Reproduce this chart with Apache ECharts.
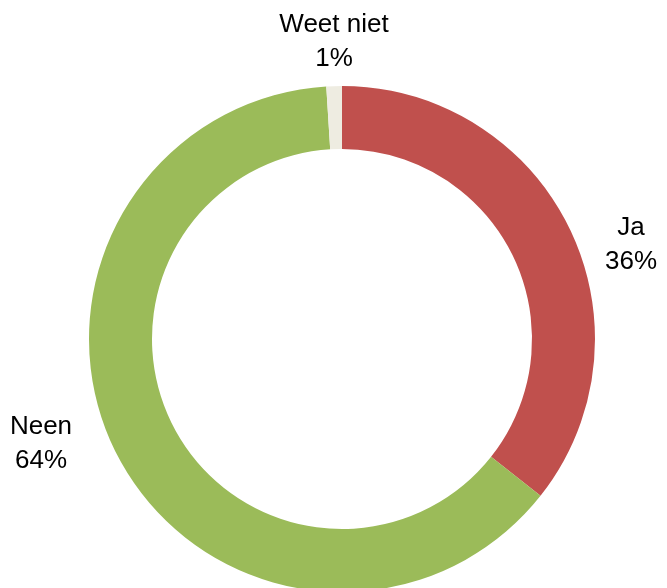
<!DOCTYPE html>
<html>
<head>
<meta charset="utf-8">
<script src="https://cdn.jsdelivr.net/npm/echarts@6/dist/echarts.min.js"></script>
<style>
  html, body { margin: 0; padding: 0; background: #fff; }
  #chart { width: 667px; height: 588px; }
</style>
</head>
<body>
<div id="chart"></div>
<script>
// Answer categories and their shares (percent), clockwise from 12 o'clock
const categories = ['Ja', 'Neen', 'Weet niet'];
const values = [36, 64, 1];
const colors = ['#C0504D', '#9BBB59', '#EEECE1'];

// Where each category label sits (centre of the two-line text block)
const labelSpots = [[631, 245], [41, 444], [334, 42]];

const chart = echarts.init(document.getElementById('chart'), null, { renderer: 'canvas' });

chart.setOption({
  animation: false,
  series: [{
    type: 'pie',
    center: [342, 339],
    radius: [190, 253],
    startAngle: 90,
    clockwise: true,
    avoidLabelOverlap: false,
    data: categories.map((name, i) => ({
      name: name,
      value: values[i],
      itemStyle: { color: colors[i] }
    })),
    itemStyle: { borderWidth: 0 },
    emphasis: { disabled: true },
    label: {
      show: true,
      position: 'outside',
      formatter: p => p.name + '\n' + p.value + '%',
      fontFamily: 'Liberation Sans',
      fontSize: 26,
      lineHeight: 34,
      color: '#000',
      align: 'center'
    },
    labelLine: { show: false },
    labelLayout: p => ({
      x: labelSpots[p.dataIndex][0],
      y: labelSpots[p.dataIndex][1],
      align: 'center',
      verticalAlign: 'middle'
    })
  }]
});
</script>
</body>
</html>
